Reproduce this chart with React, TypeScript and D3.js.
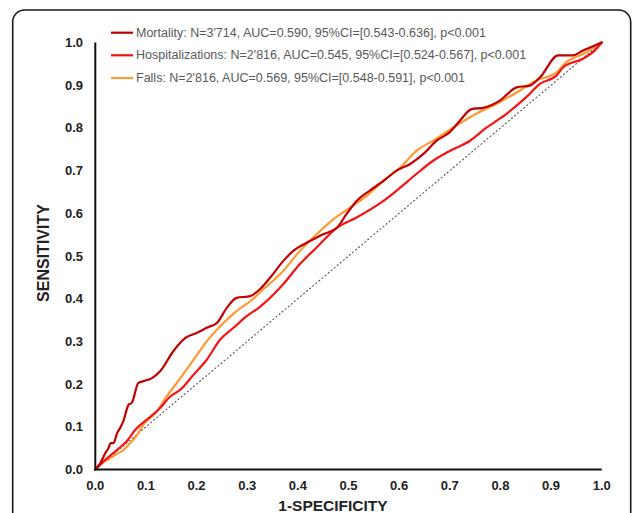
import React from "react";
import * as d3 from "d3";

const WIDTH = 634;
const HEIGHT = 513;

const xTicks = [0, 0.1, 0.2, 0.3, 0.4, 0.5, 0.6, 0.7, 0.8, 0.9, 1.0];
const yTicks = [0, 0.1, 0.2, 0.3, 0.4, 0.5, 0.6, 0.7, 0.8, 0.9, 1.0];

const seriesNames = [
  "Mortality: N=3'714, AUC=0.590, 95%CI=[0.543-0.636], p<0.001",
  "Hospitalizations: N=2'816, AUC=0.545, 95%CI=[0.524-0.567], p<0.001",
  "Falls: N=2'816, AUC=0.569, 95%CI=[0.548-0.591], p<0.001",
];
const seriesColors = ["#C00000", "#F41414", "#FF9933"];

// [1-specificity, sensitivity]
const mortality: [number, number][] = [
  [0, 0], [0.010, 0.015], [0.013, 0.022], [0.020, 0.039], [0.026, 0.050], [0.030, 0.062],
  [0.036, 0.062], [0.043, 0.085], [0.049, 0.097], [0.055, 0.112], [0.066, 0.152], [0.072, 0.156],
  [0.085, 0.203], [0.095, 0.207], [0.112, 0.214], [0.128, 0.230], [0.154, 0.277], [0.178, 0.308],
  [0.201, 0.320], [0.220, 0.332], [0.240, 0.343], [0.260, 0.379], [0.279, 0.402], [0.306, 0.406],
  [0.325, 0.422], [0.345, 0.449], [0.371, 0.488], [0.391, 0.512], [0.424, 0.535], [0.450, 0.551],
  [0.477, 0.566], [0.496, 0.598], [0.516, 0.629], [0.542, 0.653], [0.569, 0.676], [0.595, 0.700],
  [0.621, 0.715], [0.648, 0.739], [0.674, 0.770], [0.700, 0.790], [0.720, 0.817], [0.743, 0.844],
  [0.766, 0.847], [0.799, 0.864], [0.832, 0.895], [0.858, 0.899], [0.878, 0.918], [0.914, 0.970],
  [0.943, 0.970], [0.963, 0.981], [0.983, 0.991], [1, 1],
];

const hospitalizations: [number, number][] = [
  [0, 0], [0.016, 0.019], [0.039, 0.042], [0.062, 0.066], [0.079, 0.093], [0.102, 0.117],
  [0.128, 0.144], [0.148, 0.171], [0.168, 0.187], [0.194, 0.222], [0.220, 0.257], [0.247, 0.305],
  [0.273, 0.332], [0.299, 0.359], [0.325, 0.381], [0.371, 0.434], [0.404, 0.481], [0.437, 0.520],
  [0.477, 0.566], [0.516, 0.590], [0.569, 0.629], [0.602, 0.660], [0.634, 0.692], [0.667, 0.723],
  [0.700, 0.746], [0.740, 0.770], [0.773, 0.801], [0.812, 0.833], [0.851, 0.872], [0.878, 0.903],
  [0.911, 0.923], [0.924, 0.942], [0.963, 0.962], [0.986, 0.981], [1, 1],
];

const falls: [number, number][] = [
  [0, 0], [0.016, 0.017], [0.029, 0.026], [0.039, 0.034], [0.056, 0.046], [0.072, 0.066],
  [0.082, 0.080], [0.095, 0.105], [0.122, 0.136], [0.141, 0.171], [0.168, 0.214], [0.194, 0.257],
  [0.220, 0.300], [0.247, 0.336], [0.279, 0.371], [0.306, 0.394], [0.332, 0.422], [0.371, 0.465],
  [0.404, 0.512], [0.437, 0.551], [0.470, 0.586], [0.503, 0.613], [0.536, 0.641], [0.569, 0.676],
  [0.602, 0.707], [0.634, 0.746], [0.667, 0.770], [0.707, 0.801], [0.746, 0.829], [0.792, 0.856],
  [0.832, 0.883], [0.871, 0.911], [0.911, 0.930], [0.930, 0.954], [0.963, 0.973], [1, 1],
];

const diagonal: [number, number][] = [[0, 0], [1, 1]];

const seriesData = [mortality, hospitalizations, falls];

export default function App() {
  const x = d3.scaleLinear().domain([0, 1]).range([95.3, 601.7]);
  const y = d3.scaleLinear().domain([0, 1]).range([469.5, 42.5]);

  const line = d3
    .line<[number, number]>()
    .x((d) => x(d[0]))
    .y((d) => y(d[1]))
    .curve(d3.curveMonotoneX);
  const straight = d3
    .line<[number, number]>()
    .x((d) => x(d[0]))
    .y((d) => y(d[1]));

  const font = "'Liberation Sans', Arial, Helvetica, sans-serif";
  const legendY = [32.7, 55.3, 78];

  return (
    <svg
      width={WIDTH}
      height={HEIGHT}
      style={{ position: "absolute", left: 0, top: 0, background: "#fff" }}
      fontFamily={font}
    >
      <rect x={0} y={0} width={WIDTH} height={HEIGHT} fill="#fff" />
      <rect x={12.7} y={10} width={618} height={620} rx={12} ry={12} fill="none" stroke="#1a1a1a" strokeWidth={1.6} />

      {/* diagonal reference */}
      <path d={straight(diagonal) || ""} fill="none" stroke="#555" strokeWidth={1.1} strokeDasharray="2,2" />

      {/* curves (drawn in reverse so mortality on top) */}
      {[2, 1, 0].map((i) => (
        <path
          key={i}
          d={line(seriesData[i]) || ""}
          fill="none"
          stroke={seriesColors[i]}
          strokeWidth={2.2}
          strokeLinejoin="round"
          strokeLinecap="round"
        />
      ))}

      {/* axes */}
      <line x1={x(0)} x2={x(0)} y1={y(1)} y2={y(0) + 1} stroke="#111" strokeWidth={2} />
      <line x1={x(0) - 1} x2={x(1)} y1={y(0)} y2={y(0)} stroke="#111" strokeWidth={2} />

      {yTicks.map((t) => (
        <text
          key={"y" + t}
          x={83}
          y={y(t)}
          textAnchor="end"
          dominantBaseline="central"
          fontSize={13}
          fontWeight="bold"
          fill="#222"
        >
          {t.toFixed(1)}
        </text>
      ))}
      {xTicks.map((t) => (
        <text
          key={"x" + t}
          x={x(t)}
          y={490}
          textAnchor="middle"
          fontSize={13}
          fontWeight="bold"
          fill="#222"
        >
          {t.toFixed(1)}
        </text>
      ))}

      <text x={333} y={510.5} textAnchor="middle" fontSize={15.5} fontWeight="bold" fill="#222">
        1-SPECIFICITY
      </text>
      <text
        transform={`translate(49, 253) rotate(-90)`}
        textAnchor="middle"
        fontSize={16}
        fontWeight="bold"
        fill="#222"
      >
        SENSITIVITY
      </text>

      {/* legend */}
      {seriesNames.map((name, i) => (
        <g key={name}>
          <line x1={111} x2={133} y1={legendY[i]} y2={legendY[i]} stroke={seriesColors[i]} strokeWidth={2.2} />
          <text x={136} y={legendY[i]} dominantBaseline="central" fontSize={12.5} fill="#595959">
            {name}
          </text>
        </g>
      ))}
    </svg>
  );
}
